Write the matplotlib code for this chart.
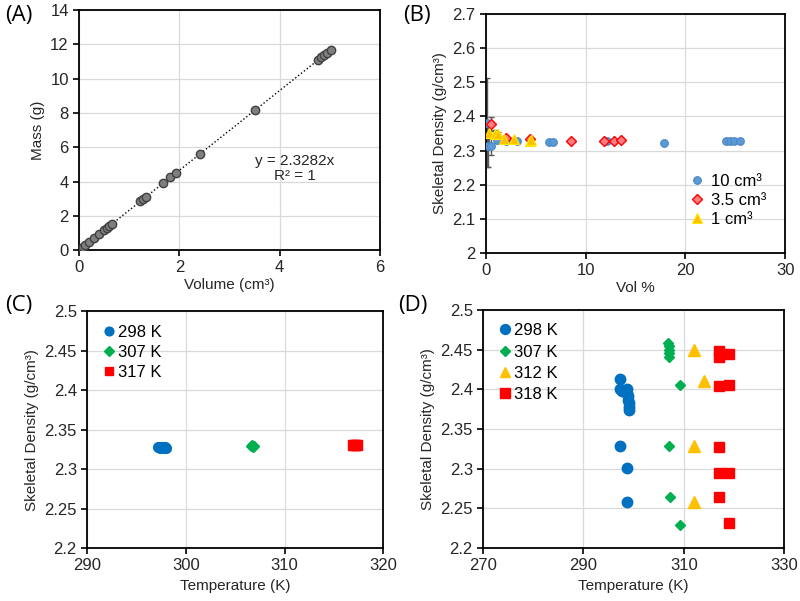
import numpy as np
import matplotlib.pyplot as plt
from matplotlib.ticker import FuncFormatter, MultipleLocator

plt.rcParams['font.family'] = ['Liberation Sans', 'DejaVu Sans']
plt.rcParams['font.size'] = 10

# (A) mass vs volume
vol_a = [0.0, 0.03, 0.07, 0.12, 0.2, 0.3, 0.4, 0.5, 0.55, 0.6, 0.65,
         1.22, 1.27, 1.33, 1.68, 1.82, 1.93, 2.40, 3.50,
         4.76, 4.83, 4.88, 4.94, 5.02]
mass_a = [0.0, 0.07, 0.16, 0.28, 0.47, 0.70, 0.93, 1.16, 1.28, 1.40, 1.51,
          2.84, 2.96, 3.10, 3.91, 4.24, 4.49, 5.59, 8.15,
          11.08, 11.24, 11.36, 11.50, 11.69]
slope_a = 2.3282

# (B) skeletal density vs vol %
b10_x = [0.1, 0.2, 0.54, 1.1, 2.0, 3.1, 6.3, 6.7, 12.1, 17.8, 24.1, 24.5, 24.9, 25.5]
b10_y = [2.381, 2.313, 2.313, 2.332, 2.327, 2.327, 2.325, 2.325, 2.327, 2.322, 2.327, 2.327, 2.328, 2.327]
b10_err = [0.13, 0.06, 0.025, 0.01, 0.004, 0.003, 0.002, 0.002, 0.001, 0.001, 0.001, 0.001, 0.001, 0.001]
b35_x = [0.54, 2.0, 4.4, 8.5, 11.8, 12.8, 13.5]
b35_y = [2.378, 2.336, 2.333, 2.329, 2.327, 2.329, 2.331]
b35_err = [0.02, 0.005, 0.003, 0.002, 0.001, 0.001, 0.001]
b1_x = [0.27, 0.94, 1.2, 1.8, 2.8, 4.4, 4.5]
b1_y = [2.351, 2.349, 2.347, 2.334, 2.335, 2.329, 2.330]
b1_err = [0.03, 0.01, 0.008, 0.004, 0.003, 0.002, 0.002]

# (C) skeletal density vs temperature
c298_t = [297.2, 297.4, 297.6, 297.8, 298.0, 297.5, 297.9]
c298_y = [2.328, 2.327, 2.328, 2.327, 2.327, 2.328, 2.328]
c307_t = [306.6, 306.7, 306.8, 306.9]
c307_y = [2.329, 2.330, 2.328, 2.329]
c317_t = [316.9, 317.0, 317.2, 317.3]
c317_y = [2.331, 2.330, 2.330, 2.331]

# (D) skeletal density vs temperature
d298_t = [297.2, 297.2, 297.7, 298.7, 298.7, 298.8, 298.9, 299.0, 299.0, 299.1, 297.3, 298.7, 298.7]
d298_y = [2.413, 2.400, 2.398, 2.400, 2.395, 2.391, 2.387, 2.383, 2.378, 2.374, 2.328, 2.301, 2.258]
d307_t = [306.9, 307.0, 307.0, 307.1, 307.1, 309.2, 307.1, 307.2, 309.2]
d307_y = [2.459, 2.454, 2.450, 2.446, 2.441, 2.406, 2.329, 2.264, 2.229]
d312_t = [312.0, 314.0, 312.0, 312.0]
d312_y = [2.449, 2.410, 2.328, 2.258]
d318_t = [317.0, 317.0, 319.0, 317.0, 319.0, 317.0, 317.0, 319.0, 317.0, 319.0]
d318_y = [2.448, 2.441, 2.445, 2.404, 2.406, 2.327, 2.294, 2.294, 2.264, 2.232]

grid_c = '#d9d9d9'
txt_c = '#262626'
fmt_g = FuncFormatter(lambda v, p: '%g' % round(v, 3))


def style(ax):
    ax.grid(True, color=grid_c, lw=0.9)
    ax.set_axisbelow(True)
    for s in ax.spines.values():
        s.set_color('black')
        s.set_linewidth(1.3)
    ax.tick_params(direction='out', length=4, width=1.2, colors='black',
                   labelcolor=txt_c, labelsize=12)
    ax.yaxis.set_major_formatter(fmt_g)
    ax.xaxis.set_major_formatter(fmt_g)


fig = plt.figure(figsize=(8, 6.01), dpi=100)

# ---- (A)
ax = fig.add_axes([0.099, 0.584, 0.376, 0.399])
style(ax)
ax.plot([0, max(vol_a)], [0, slope_a * max(vol_a)], ls=':', color='black', lw=1.0, zorder=2)
ax.plot(vol_a, mass_a, 'o', ms=6, mfc='#7f7f7f', mec='#404040', mew=1.0, zorder=3)
ax.set_xlim(0, 6)
ax.set_ylim(0, 14)
ax.xaxis.set_major_locator(MultipleLocator(2))
ax.yaxis.set_major_locator(MultipleLocator(2))
ax.set_xlabel('Volume (cm³)', color=txt_c, fontsize=11, labelpad=2)
ax.set_ylabel('Mass (g)', color=txt_c, fontsize=11, labelpad=4)
ax.text(4.3, 4.75, 'y = 2.3282x\nR² = 1', ha='center', va='center',
        color=txt_c, fontsize=11, linespacing=1.15)

# ---- (B)
ax = fig.add_axes([0.6075, 0.579, 0.374, 0.398])
style(ax)
ax.errorbar(b10_x, b10_y, yerr=b10_err, fmt='none', ecolor='#595959', elinewidth=1.0, capsize=2, zorder=2)
ax.errorbar(b35_x, b35_y, yerr=b35_err, fmt='none', ecolor='#595959', elinewidth=1.0, capsize=2, zorder=2)
ax.errorbar(b1_x, b1_y, yerr=b1_err, fmt='none', ecolor='#595959', elinewidth=1.0, capsize=2, zorder=2)
ax.plot(b10_x, b10_y, 'o', ms=5.5, mfc='#5b9bd5', mec='#4a86c5', mew=0.8, ls='none', label='10 cm³', zorder=3)
ax.plot(b35_x, b35_y, 'D', ms=5, mfc='#ff7c80', mec='#ff0000', mew=1.0, ls='none', label='3.5 cm³', zorder=4)
ax.plot(b1_x, b1_y, '^', ms=6.5, mfc='#ffc000', mec='#ffe600', mew=0.8, ls='none', label='1 cm³', zorder=5)
ax.set_xlim(0, 30)
ax.set_ylim(2.0, 2.7)
ax.xaxis.set_major_locator(MultipleLocator(10))
ax.yaxis.set_major_locator(MultipleLocator(0.1))
ax.set_xlabel('Vol %', color=txt_c, fontsize=11, labelpad=2)
ax.set_ylabel('Skeletal Density (g/cm³)', color=txt_c, fontsize=11, labelpad=4)
ax.legend(loc='lower right', bbox_to_anchor=(0.975, 0.06), frameon=False, fontsize=12,
          handletextpad=0.2, labelspacing=0.25, handlelength=1.2, borderaxespad=0.3)

# ---- (C)
ax = fig.add_axes([0.109, 0.0882, 0.370, 0.394])
style(ax)
ax.plot(c298_t, c298_y, 'o', ms=7, color='#0070c0', ls='none', label='298 K')
ax.plot(c307_t, c307_y, 'D', ms=5.5, color='#00b050', ls='none', label='307 K')
ax.plot(c317_t, c317_y, 's', ms=7, color='#ff0000', ls='none', label='317 K')
ax.set_xlim(290, 320)
ax.set_ylim(2.2, 2.5)
ax.xaxis.set_major_locator(MultipleLocator(10))
ax.yaxis.set_major_locator(MultipleLocator(0.05))
ax.set_xlabel('Temperature (K)', color=txt_c, fontsize=11, labelpad=4)
ax.set_ylabel('Skeletal Density (g/cm³)', color=txt_c, fontsize=11, labelpad=4)
ax.legend(loc='upper left', frameon=False, fontsize=12, handletextpad=0.05,
          labelspacing=0.32, handlelength=1.0, borderaxespad=0.4, markerscale=0.9)

# ---- (D)
ax = fig.add_axes([0.604, 0.0882, 0.376, 0.396])
style(ax)
ax.plot(d298_t, d298_y, 'o', ms=7.5, color='#0070c0', ls='none', label='298 K')
ax.plot(d307_t, d307_y, 'D', ms=5, color='#00b050', ls='none', label='307 K')
ax.plot(d312_t, d312_y, '^', ms=8, color='#ffc000', ls='none', label='312 K')
ax.plot(d318_t, d318_y, 's', ms=7.5, color='#ff0000', ls='none', label='318 K')
ax.set_xlim(270, 330)
ax.set_ylim(2.2, 2.5)
ax.set_xticks([270, 290, 310, 330])
ax.yaxis.set_major_locator(MultipleLocator(0.05))
ax.set_xlabel('Temperature (K)', color=txt_c, fontsize=11, labelpad=4)
ax.set_ylabel('Skeletal Density (g/cm³)', color=txt_c, fontsize=11, labelpad=4)
ax.legend(loc='upper left', frameon=False, fontsize=12, handletextpad=0.05,
          labelspacing=0.38, handlelength=1.0, borderaxespad=0.4, markerscale=0.95)

# panel letters
for lab, x, y in [('(A)', 0.006, 0.975), ('(B)', 0.504, 0.975),
                  ('(C)', 0.006, 0.492), ('(D)', 0.498, 0.492)]:
    fig.text(x, y, lab, fontsize=16, family=['Open Sans', 'DejaVu Sans'], color='black',
             ha='left', va='center')

fig.savefig('out.png', dpi=100)
